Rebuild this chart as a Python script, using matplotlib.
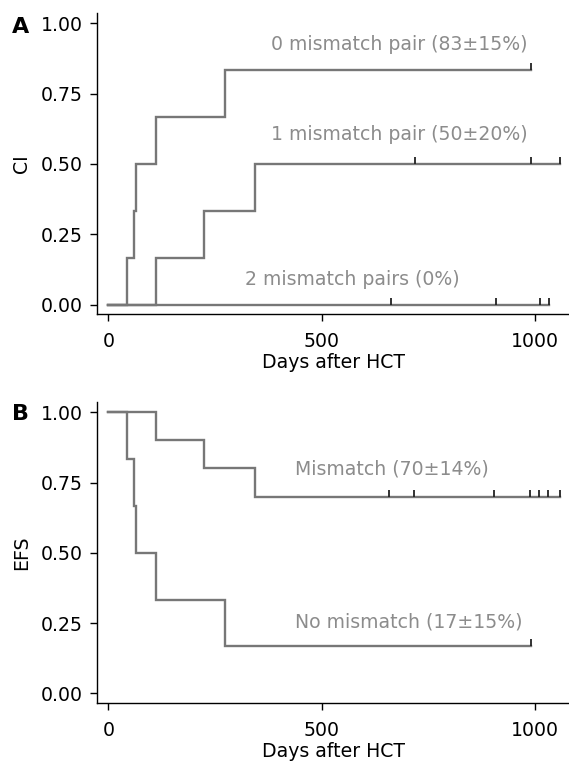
import matplotlib
matplotlib.use("Agg")
import matplotlib.pyplot as plt
from matplotlib.markers import TICKUP

plt.rcParams["font.family"] = ["DejaVu Sans"]

# --- panel A: cumulative incidence by number of mismatch pairs ---
a0_days = [0, 44, 60, 65, 112, 273, 990]
a0_ci = [0, 0.167, 0.333, 0.5, 0.667, 0.833, 0.833]
a0_cens = [990]

a1_days = [0, 112, 224, 344, 1060]
a1_ci = [0, 0.167, 0.333, 0.5, 0.5]
a1_cens = [718, 990, 1060]

a2_days = [0, 1034]
a2_ci = [0, 0]
a2_cens = [663, 908, 1012, 1034]

# --- panel B: event-free survival ---
bm_days = [0, 112, 224, 344, 1059]
bm_efs = [1.0, 0.9, 0.8, 0.7, 0.7]
bm_cens = [659, 717, 905, 988, 1009, 1030, 1059]

bn_days = [0, 44, 60, 65, 112, 273, 990]
bn_efs = [1.0, 0.833, 0.667, 0.5, 0.333, 0.167, 0.167]
bn_cens = [990]

yticks = [0, 0.25, 0.5, 0.75, 1.0]
xticks = [0, 500, 1000]
LINE = "#777777"
TXT = "#8c8c8c"
FS = 13.6


def step_value(days, vals, t):
    v = vals[0]
    for d, y in zip(days, vals):
        if d <= t:
            v = y
    return v


def km(ax, days, vals, cens):
    ax.step(days, vals, where="post", color=LINE, lw=1.7, solid_joinstyle="miter")
    ax.plot(cens, [step_value(days, vals, c) for c in cens], ls="none",
            marker=TICKUP, ms=5, mew=1.3, color="#222222")


def style(ax, ylabel, ylim):
    ax.set_xlim(-26.5, 1080)
    ax.set_ylim(*ylim)
    ax.set_xticks(xticks)
    ax.set_yticks(yticks)
    ax.set_yticklabels([f"{v:.2f}" for v in yticks])
    for s in ("top", "right"):
        ax.spines[s].set_visible(False)
    for s in ("left", "bottom"):
        ax.spines[s].set_linewidth(1.0)
    ax.tick_params(direction="out", length=5, width=1.0, labelsize=FS)
    ax.tick_params(axis="y", pad=5.5)
    ax.tick_params(axis="x", pad=7.5)
    ax.set_xlabel("Days after HCT", fontsize=FS, labelpad=2)
    ax.set_ylabel(ylabel, fontsize=FS, labelpad=7)


fig = plt.figure(figsize=(5.69, 7.61), dpi=100)
axA = fig.add_axes([0.1705, 0.587, 0.8295, 0.396])
axB = fig.add_axes([0.1705, 0.0758, 0.8295, 0.3956])

km(axA, a0_days, a0_ci, a0_cens)
km(axA, a1_days, a1_ci, a1_cens)
km(axA, a2_days, a2_ci, a2_cens)
style(axA, "CI", (-0.0345, 1.037))
axA.text(381, 0.923, "0 mismatch pair (83±15%)", color=TXT, fontsize=FS, va="center")
axA.text(381, 0.606, "1 mismatch pair (50±20%)", color=TXT, fontsize=FS, va="center")
axA.text(321, 0.09, "2 mismatch pairs (0%)", color=TXT, fontsize=FS, va="center")

km(axB, bm_days, bm_efs, bm_cens)
km(axB, bn_days, bn_efs, bn_cens)
style(axB, "EFS", (-0.0356, 1.0356))
axB.text(438, 0.798, "Mismatch (70±14%)", color=TXT, fontsize=FS, va="center")
axB.text(438, 0.252, "No mismatch (17±15%)", color=TXT, fontsize=FS, va="center")

fig.text(0.021, 0.965, "A", fontsize=16, fontweight="bold", va="center")
fig.text(0.021, 0.456, "B", fontsize=16, fontweight="bold", va="center")

fig.savefig("out.png", dpi=100)
